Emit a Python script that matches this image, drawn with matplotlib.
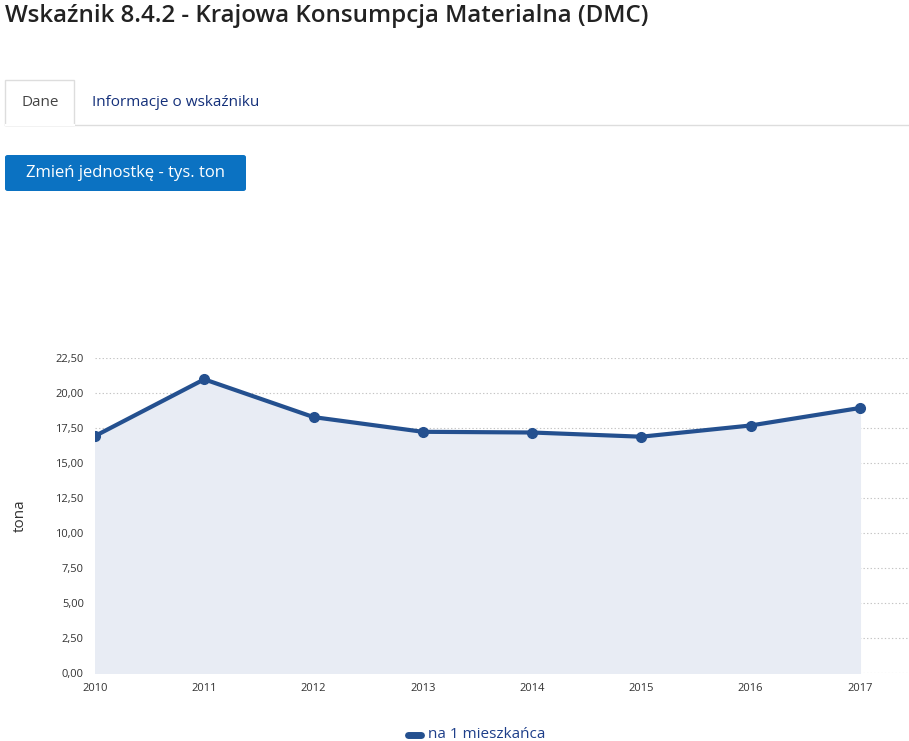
import matplotlib.pyplot as plt
from matplotlib.patches import FancyBboxPatch, Rectangle
from matplotlib.lines import Line2D

plt.rcParams['font.family'] = ['Open Sans', 'DejaVu Sans']

years = [2010, 2011, 2012, 2013, 2014, 2015, 2016, 2017]
dmc = [16.95, 21.0, 18.3, 17.25, 17.2, 16.9, 17.7, 18.95]
yticks = [0, 2.5, 5, 7.5, 10, 12.5, 15, 17.5, 20, 22.5]

W, H = 909, 741
fig = plt.figure(figsize=(W / 100, H / 100), dpi=100)

def fx(px):
    return px / W

def fy(py):
    return 1 - py / H

# page header
fig.text(fx(5), fy(16), 'Wskaźnik 8.4.2 - Krajowa Konsumpcja Materialna (DMC)',
         fontsize=17.4, fontweight='semibold', color='#222222', va='center', ha='left')

# tabs
fig.add_artist(Line2D([fx(5), fx(909)], [fy(124.5), fy(124.5)], color='#dddddd', lw=1))
fig.add_artist(Rectangle((fx(5), fy(125)), fx(69), fy(80) - fy(125),
                         facecolor='white', edgecolor='#dddddd', lw=1))
fig.add_artist(Line2D([fx(5.5), fx(73.5)], [fy(124.5), fy(124.5)], color='white', lw=1.5))
fig.text(fx(40), fy(102), 'Dane', fontsize=11, color='#444444', ha='center', va='center')
fig.text(fx(92), fy(102), 'Informacje o wskaźniku', fontsize=11, color='#14307a',
         ha='left', va='center')

# button
fig.add_artist(FancyBboxPatch((fx(5), fy(191)), fx(241), fy(155) - fy(191),
                              boxstyle='round,pad=0,rounding_size=0.003',
                              facecolor='#0b72c2', edgecolor='none'))
fig.text(fx(125.5), fy(173), 'Zmień jednostkę - tys. ton', fontsize=12, color='white',
         ha='center', va='center')

# chart
ax = fig.add_axes([fx(95), fy(673.3), fx(909) - fx(95), fy(358.3) - fy(673.3)])
ax.fill_between(years, dmc, 0, color='#e8ecf4', zorder=1)
ax.plot(years, dmc, color='#24508f', lw=3, marker='o', markersize=7, zorder=3,
        solid_capstyle='round')
ax.set_xlim(2010, 2017.45)
ax.set_ylim(0, 22.5)
ax.set_yticks(yticks)
ax.set_yticklabels([f'{v:.2f}'.replace('.', ',') for v in yticks], fontsize=8, color='#333333')
ax.set_xticks(years)
ax.set_xticklabels([str(y) for y in years], fontsize=8, color='#333333')
ax.tick_params(axis='y', length=0, pad=8)
ax.tick_params(axis='x', length=0, pad=7)
for s in ax.spines.values():
    s.set_visible(False)
ax.grid(axis='y', color='#c4c4c4', linestyle=(0, (1.2, 2)), lw=0.8, zorder=0)
ax.set_axisbelow(True)
fig.text(fx(20), fy(516), 'tona', rotation=90, fontsize=11, color='#333333',
         ha='center', va='center')

# legend
fig.add_artist(Line2D([fx(408), fx(421)], [fy(735), fy(735)], color='#24508f', lw=5,
                      solid_capstyle='round'))
fig.text(fx(428), fy(734), 'na 1 mieszkańca', fontsize=11, color='#1e3f8a',
         ha='left', va='center')

fig.savefig('out.png', dpi=100)
